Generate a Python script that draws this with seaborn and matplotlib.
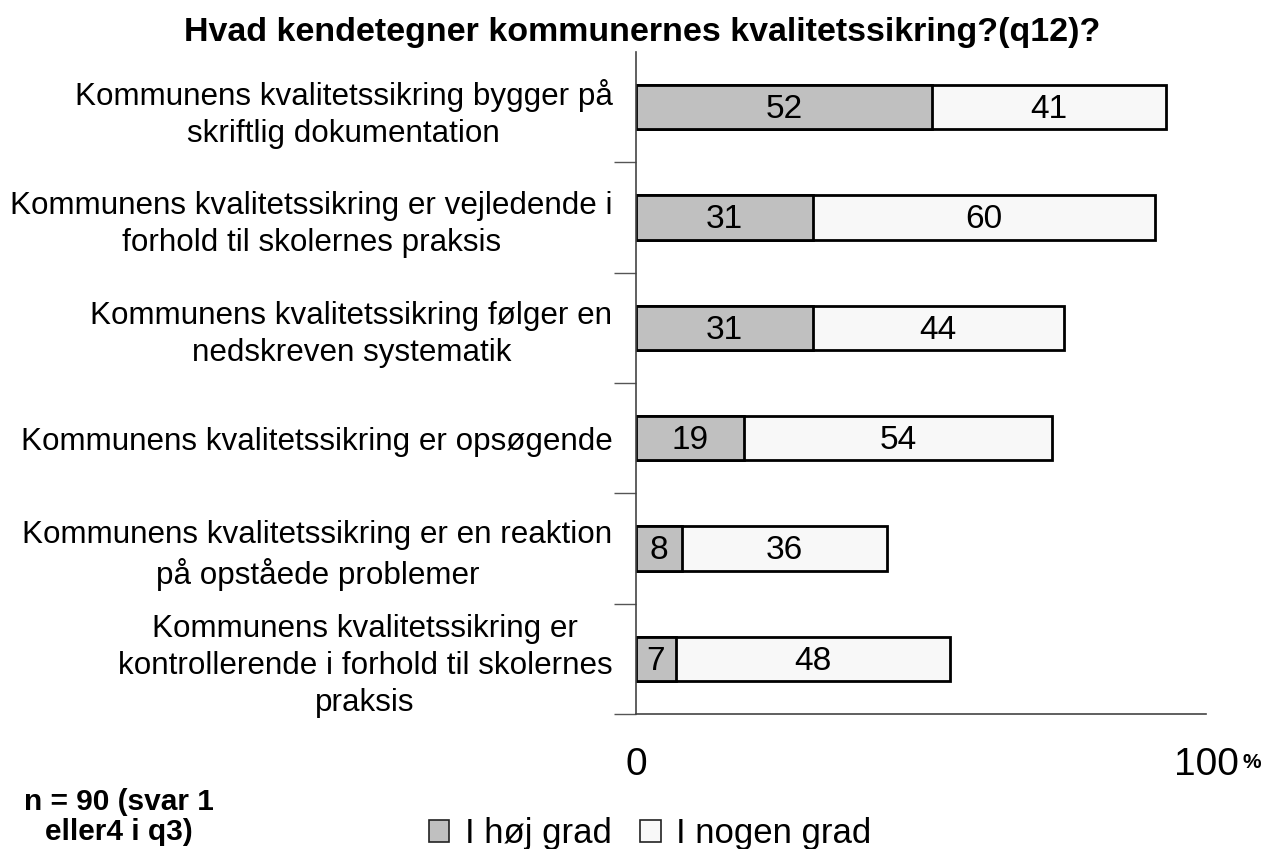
import pandas as pd
import matplotlib
matplotlib.use("Agg")
import matplotlib.pyplot as plt
from matplotlib.patches import Patch
import seaborn as sns

# chart data
categories = [
    "Kommunens kvalitetssikring bygger på\nskriftlig dokumentation",
    "Kommunens kvalitetssikring er vejledende i\nforhold til skolernes praksis",
    "Kommunens kvalitetssikring følger en\nnedskreven systematik",
    "Kommunens kvalitetssikring er opsøgende",
    "Kommunens kvalitetssikring er en reaktion\npå opståede problemer",
    "Kommunens kvalitetssikring er\nkontrollerende i forhold til skolernes\npraksis",
]
hoej_grad = [52, 31, 31, 19, 8, 7]
nogen_grad = [41, 60, 44, 54, 36, 48]
series_names = ["I høj grad", "I nogen grad"]
series_colors = ["#C0C0C0", "#F8F8F8"]
x_ticks = [0, 100]
x_ticklabels = ["0", "100"]

df = pd.DataFrame({"cat": categories, "hoej": hoej_grad, "nogen": nogen_grad})
df["total"] = df["hoej"] + df["nogen"]

sns.set_style("white")
plt.rcParams["font.family"] = ["Liberation Sans", "DejaVu Sans"]
plt.rcParams["text.color"] = "black"
plt.rcParams["xtick.labelcolor"] = "black"
plt.rcParams["ytick.labelcolor"] = "black"

fig = plt.figure(figsize=(12.78, 8.49), dpi=100)
ax = fig.add_axes([636 / 1278, 1 - 714 / 849, 570 / 1278, 662 / 849])

# light segment drawn as the full total, grey segment on top of it
sns.barplot(data=df, x="total", y="cat", order=categories, color=series_colors[1],
            saturation=1, width=0.4, edgecolor="black", linewidth=2, ax=ax)
sns.barplot(data=df, x="hoej", y="cat", order=categories, color=series_colors[0],
            saturation=1, width=0.4, edgecolor="black", linewidth=2, ax=ax)

for i, (a, b) in enumerate(zip(hoej_grad, nogen_grad)):
    ax.text(a / 2, i + 0.02, str(a), ha="center", va="center", fontsize=24)
    ax.text(a + b / 2, i + 0.02, str(b), ha="center", va="center", fontsize=24)

ax.set_xlim(0, 100)
ax.set_ylim(len(categories) - 0.5, -0.5)
ax.set_xlabel("")
ax.set_ylabel("")

ax.set_xticks(x_ticks)
ax.set_xticklabels(x_ticklabels, fontsize=28)
ax.tick_params(axis="x", direction="out", length=10, width=1, pad=14, color="#555555")
ax.set_yticks(range(len(categories)))
ax.set_yticks([i + 0.5 for i in range(len(categories))], minor=True)
ax.tick_params(axis="y", which="major", length=0, pad=17, labelsize=22.6)
ax.tick_params(axis="y", which="minor", direction="out", length=16, width=1, color="#555555", left=True)
for lbl in ax.get_yticklabels():
    lbl.set_multialignment("center")
    lbl.set_linespacing(1.3)

for side in ["top", "right"]:
    ax.spines[side].set_visible(False)
for side in ["left", "bottom"]:
    ax.spines[side].set_color("#444444")
    ax.spines[side].set_linewidth(1.2)

fig.text(1252 / 1278, 1 - 762 / 849, "%", fontsize=15, fontweight="bold", ha="center", va="center")

fig.text(642 / 1278, 1 - 33 / 849, "Hvad kendetegner kommunernes kvalitetssikring?(q12)?",
         fontsize=24.5, fontweight="bold", ha="center", va="center")

fig.text(119 / 1278, 1 - 817 / 849, "n = 90 (svar 1\neller4 i q3)", fontsize=21.5,
         fontweight="bold", ha="center", va="center", multialignment="center", linespacing=1.05)

handles = [Patch(facecolor=c, edgecolor="#222222", linewidth=1.2) for c in series_colors]
fig.legend(handles, series_names, loc="center", bbox_to_anchor=(650 / 1278, 1 - 834 / 849),
           ncol=2, frameon=False, fontsize=25, handlelength=0.6, handleheight=0.6,
           handletextpad=0.45, columnspacing=0.8, borderpad=0)

fig.savefig("out.png", dpi=100)
